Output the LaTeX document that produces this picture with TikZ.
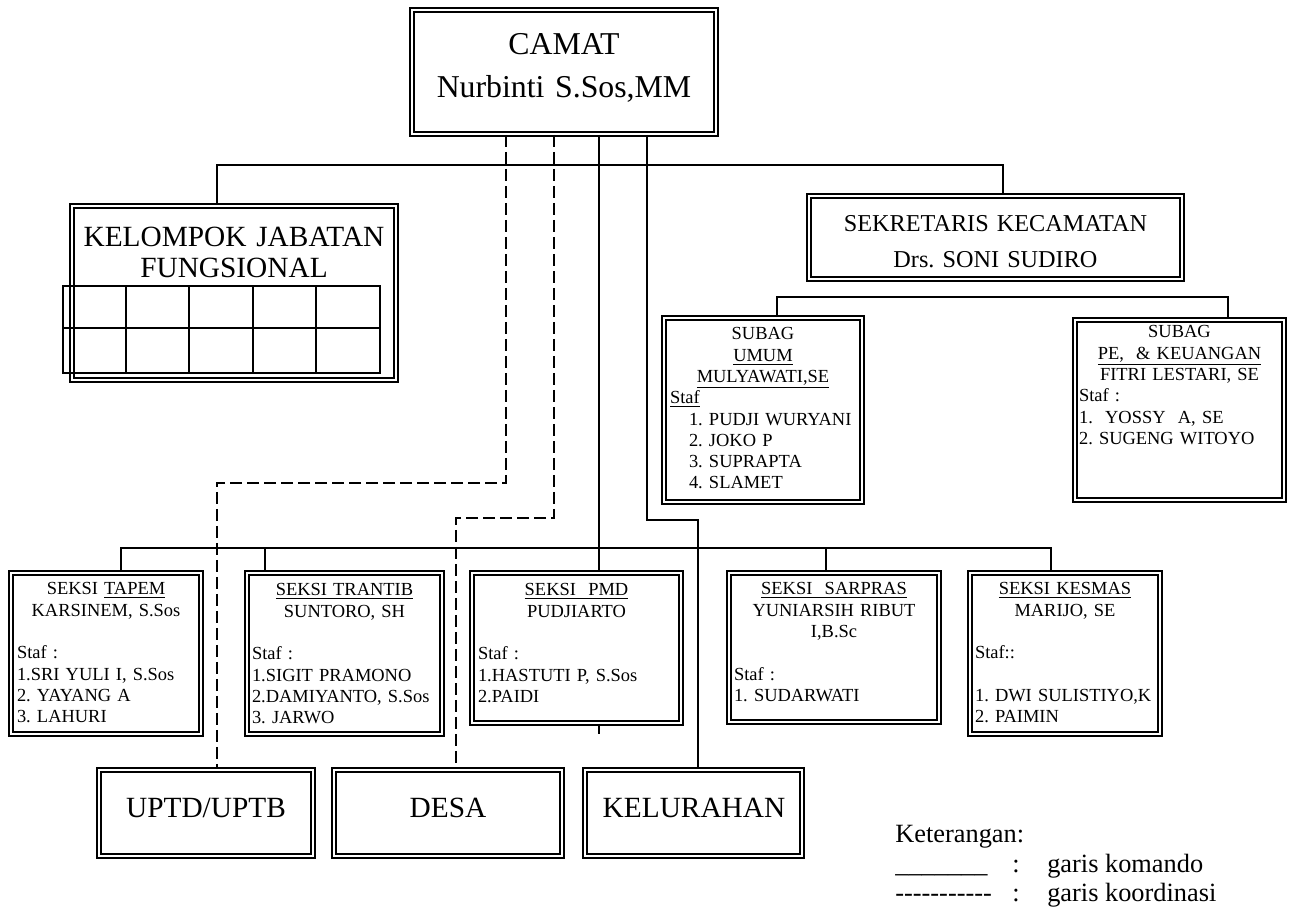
\documentclass[tikz,border=0pt]{standalone}
\usepackage{fontspec}
\setmainfont{Liberation Serif}
\usetikzlibrary{fit}
\frenchspacing
\newcommand{\lft}[1]{\makebox[\linewidth][l]{#1}}

\begin{document}
\begin{tikzpicture}[x=0.02cm, y=-0.02cm,
    frame/.style={draw, double, line width=1.1pt, double distance=1.3pt, inner sep=0pt},
    komando/.style={line width=0.75pt},
    koord/.style={line width=0.85pt, dash pattern=on 0.24cm off 0.1cm},
    cell/.style={line width=0.85pt},
    lbl/.style={anchor=base, inner sep=0pt, align=center},
    txtsmall/.style={lbl, font=\fontsize{10.5}{12.1}\selectfont},
    txtsek/.style={lbl, font=\fontsize{13.8}{20.4}\selectfont},
    txtbig/.style={lbl, font=\fontsize{16.7}{17.6}\selectfont},
    txtcamat/.style={lbl, font=\fontsize{18.1}{24.4}\selectfont},
    keter/.style={anchor=base west, inner sep=0pt, font=\fontsize{15}{17}\selectfont}]
  \useasboundingbox (0,0) rectangle (1289,911);

  % frames
  \node[frame, fit={(412,10) (716,134)}] (camat) {};
  \node[frame, fit={(72,206) (396,380)}] (kjf) {};
  \node[frame, fit={(809,196) (1182,279)}] (sek) {};
  \node[frame, fit={(664,318) (862,502)}] (umum) {};
  \node[frame, fit={(1075,320) (1284,500)}] (pe) {};
  \node[frame, fit={(11,573) (201,734)}] (tapem) {};
  \node[frame, fit={(247,573) (442,734)}] (trantib) {};
  \node[frame, fit={(472,573) (681,723)}] (pmd) {};
  \node[frame, fit={(729,573) (939,722)}] (sarpras) {};
  \node[frame, fit={(970,573) (1160,734)}] (kesmas) {};
  \node[frame, fit={(99,770) (313,856)}] (uptd) {};
  \node[frame, fit={(334,770) (562,856)}] (desa) {};
  \node[frame, fit={(585,770) (802,856)}] (kel) {};

  % table in kelompok jabatan
  \draw[cell] (63,286) rectangle (380,373);
  \draw[cell] (63,328) -- (380,328);
  \foreach \x in {126,189,253,316}
    \draw[cell] (\x,286) -- (\x,373);

  % texts
  \node[txtcamat, text width=6cm] (camattxt) at (564,55) {CAMAT\\Nurbinti S.Sos,MM};
  \node[txtbig, text width=6.4cm] (kjftxt) at (234,247) {KELOMPOK JABATAN\\FUNGSIONAL};
  \node[txtsek, text width=7.2cm] (sektxt) at (995.5,232) {SEKRETARIS KECAMATAN\\Drs. SONI SUDIRO};
  \node[txtsmall, text width=3.72cm] (umumtxt) at (763,340) {SUBAG\\\underline{UMUM}\\\underline{MULYAWATI,SE}\\
    \lft{\underline{Staf}}\\
    \lft{\hspace*{0.38cm}1. PUDJI WURYANI}\\
    \lft{\hspace*{0.38cm}2. JOKO P}\\
    \lft{\hspace*{0.38cm}3. SUPRAPTA}\\
    \lft{\hspace*{0.38cm}4. SLAMET}};
  \node[txtsmall, text width=4.02cm] (petxt) at (1179.5,338) {SUBAG\\\underline{PE,\ \ \& KEUANGAN}\\FITRI LESTARI, SE\\
    \lft{Staf :}\\
    \lft{1.\ \ YOSSY\ \ A, SE}\\
    \lft{2. SUGENG WITOYO}};
  \node[txtsmall, text width=3.56cm] (tapemtxt) at (106,595) {SEKSI \underline{TAPEM}\\KARSINEM, S.Sos\\[\baselineskip]
    \lft{Staf :}\\
    \lft{1.SRI YULI I, S.Sos}\\
    \lft{2. YAYANG A}\\
    \lft{3. LAHURI}};
  \node[txtsmall, text width=3.7cm] (trantibtxt) at (344.5,596) {\underline{SEKSI TRANTIB}\\SUNTORO, SH\\[\baselineskip]
    \lft{Staf :}\\
    \lft{1.SIGIT PRAMONO}\\
    \lft{2.DAMIYANTO, S.Sos}\\
    \lft{3. JARWO}};
  \node[txtsmall, text width=3.94cm] (pmdtxt) at (576.5,596) {\underline{SEKSI\ \ PMD}\\PUDJIARTO\\[\baselineskip]
    \lft{Staf :}\\
    \lft{1.HASTUTI P, S.Sos}\\
    \lft{2.PAIDI}};
  \node[txtsmall, text width=4cm] (sarprastxt) at (834,595) {\underline{SEKSI\ \ SARPRAS}\\YUNIARSIH RIBUT\\I,B.Sc\\[\baselineskip]
    \lft{Staf :}\\
    \lft{1. SUDARWATI}};
  \node[txtsmall, text width=3.6cm] (kesmastxt) at (1065,595) {\underline{SEKSI KESMAS}\\MARIJO, SE\\[\baselineskip]
    \lft{Staf::}\\[\baselineskip]
    \lft{1. DWI SULISTIYO,K}\\
    \lft{2. PAIMIN}};
  \node[txtbig, text width=4.2cm] (uptdtxt) at (206,818) {UPTD/UPTB};
  \node[txtbig, text width=4.5cm] (desatxt) at (448,818) {DESA};
  \node[txtbig, text width=4.3cm] (keltxt) at (694,818) {KELURAHAN};

  % garis komando
  \coordinate (kj) at (217,165);
  \coordinate (sk) at (1003,165);
  \draw[komando] (kj |- kjf.north) -- (kj) -- (sk) -- (sk |- sek.north);
  \coordinate (um) at (777,297);
  \coordinate (pk) at (1228,297);
  \draw[komando] (um |- umum.north) -- (um) -- (pk) -- (pk |- pe.north);
  \coordinate (s1) at (121,548);
  \coordinate (s2) at (265,548);
  \coordinate (s3) at (599,548);
  \coordinate (s4) at (826,548);
  \coordinate (s5) at (1051,548);
  \draw[komando] (s1 |- tapem.north) -- (s1) -- (s5) -- (s5 |- kesmas.north);
  \draw[komando] (s2) -- (s2 |- trantib.north);
  \draw[komando] (s4) -- (s4 |- sarpras.north);
  \draw[komando] (camat.south -| s3) -- (pmd.north -| s3);
  \coordinate (stub) at (599,734);
  \draw[komando] (pmd.south -| s3) -- (stub);
  \coordinate (d1) at (647,520);
  \coordinate (d2) at (698,520);
  \draw[komando] (camat.south -| d1) -- (d1) -- (d2) -- (d2 |- kel.north);

  % garis koordinasi
  \coordinate (a1) at (506,483);
  \coordinate (a2) at (217,483);
  \draw[koord] (camat.south -| a1) -- (a1) -- (a2) -- (a2 |- uptd.north);
  \coordinate (b1) at (554,518);
  \coordinate (b2) at (456,518);
  \draw[koord] (camat.south -| b1) -- (b1) -- (b2) -- (b2 |- desa.north);

  % keterangan
  \node[keter] (ket) at (895,843) {Keterangan:};
  \node[keter] (ketkom) at (895,873) {\makebox[2.34cm][l]{\_\_\_\_\_\_\_}\makebox[0.7cm][l]{:}garis komando};
  \node[keter] (ketkoor) at (895,902) {\makebox[2.34cm][l]{-{}-{}-{}-{}-{}-{}-{}-{}-{}-{}-}\makebox[0.7cm][l]{:}garis koordinasi};
\end{tikzpicture}
\end{document}
